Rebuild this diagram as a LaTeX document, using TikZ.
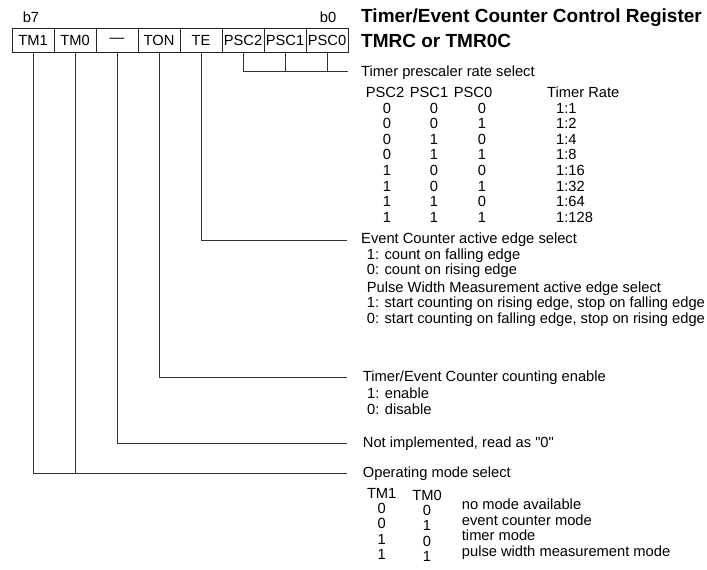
\documentclass[tikz,border=0pt]{standalone}
\usepackage{fontspec}
\setmainfont{Liberation Sans}
\newfontfamily\rawsans{Liberation Sans}
\begin{document}
\begin{tikzpicture}[x=1pt,y=-1pt,
  every node/.style={font=\fontsize{14.7}{16}\selectfont, inner sep=0pt},
  cell/.style={draw=black!85, line width=0.9pt, minimum width=42pt, minimum height=24pt, anchor=center},
  lbl/.style={anchor=mid west, yshift=-1.5pt},
  ctr/.style={anchor=mid, yshift=-1.5pt},
  ttl/.style={anchor=mid west, font=\fontsize{19}{22}\selectfont\bfseries},
  conn/.style={draw=black!80, line width=0.9pt}]
\useasboundingbox (0,0) rectangle (707,570);
% register cells
\node[cell] (tm1)  at (33,40)  {TM1};
\node[cell] (tm0)  at (75,40)  {TM0};
\node[cell] (nc)   at (117,40) {—};
\node[cell] (ton)  at (159,40) {TON};
\node[cell] (te)   at (201,40) {TE};
\node[cell] (psc2) at (243,40) {PSC2};
\node[cell] (psc1) at (285,40) {PSC1};
\node[cell] (psc0) at (327,40) {PSC0};
\node[ctr] (b7) at (31,18) {b7};
\node[ctr] (b0) at (328,18) {b0};
% title
\node[ttl] (t1) at (361,20) {Timer/Event Counter Control Register};
\node[ttl] (t2) at (361,45) {TMRC or TMR0C};
% connector end points
\coordinate (ePSC) at (348,71);
\coordinate (eTE)  at (347,240);
\coordinate (eTON) at (347,377);
\coordinate (eNC)  at (347,443);
\coordinate (eTM)  at (347,473);
\draw[conn] (psc2.south) |- (ePSC);
\draw[conn] (psc1.south) -- (psc1.south |- ePSC);
\draw[conn] (psc0.south) -- (psc0.south |- ePSC);
\draw[conn] (te.south) |- (eTE);
\draw[conn] (ton.south) |- (eTON);
\draw[conn] (nc.south) |- (eNC);
\draw[conn] (tm1.south) |- (eTM);
\draw[conn] (tm0.south) -- (tm0.south |- eTM);
% prescaler
\node[lbl] (pscT) at (361,72) {Timer prescaler rate select};
\node[ctr] (h2) at (385,93) {PSC2};
\node[ctr] (h1) at (429,93) {PSC1};
\node[ctr] (h0) at (473,93) {PSC0};
\node[lbl] (hr) at (547,93) {Timer Rate};
\foreach \a/\b/\c/\r [count=\i from 0] in {0/0/0/1:1,0/0/1/1:2,0/1/0/1:4,0/1/1/1:8,1/0/0/1:16,1/0/1/1:32,1/1/0/1:64,1/1/1/1:128}{
  \pgfmathsetmacro{\yy}{109+15.6*\i}
  \node[ctr] (pa\i) at (387,\yy) {\a};
  \node[ctr] (pb\i) at (434,\yy) {\b};
  \node[ctr] (pc\i) at (482,\yy) {\c};
  \node[lbl] (pr\i) at (556,\yy) {\r};
}
% TE
\node[lbl] (teT) at (361,239) {Event Counter active edge select};
\node[lbl] (te1) at (366.7,255) {1: count on falling edge};
\node[lbl] (te0) at (366.7,270.5) {0: count on rising edge};
\node[lbl] (pw)  at (366.7,288) {Pulse Width Measurement active edge select};
\node[lbl] (pw1) at (366.7,303.5) {1: start counting on rising edge, stop on falling edge};
\node[lbl] (pw0) at (366.7,319) {0: start counting on falling edge, stop on rising edge};
% TON
\node[lbl] (tonT) at (362.7,377) {Timer/Event Counter counting enable};
\node[lbl] (ton1) at (367,394) {1: enable};
\node[lbl] (ton0) at (367,410.5) {0: disable};
% not implemented
\node[lbl, font=\rawsans\fontsize{14.7}{16}\selectfont] (ncT) at (362.7,443) {Not implemented, read as "0"};
% operating mode
\node[lbl] (tmT) at (362.7,473) {Operating mode select};
\node[ctr] (hm1) at (381.7,494) {TM1};
\node[ctr] (hm0) at (427,496) {TM0};
\foreach \a/\b/\d [count=\i from 0] in {0/0/no mode available,0/1/event counter mode,1/0/timer mode,1/1/pulse width measurement mode}{
  \pgfmathsetmacro{\yy}{509+15.5*\i}
  \pgfmathsetmacro{\yb}{511+15.5*\i}
  \pgfmathsetmacro{\yd}{505.5+15.5*\i}
  \node[ctr] (ma\i) at (381.7,\yy) {\a};
  \node[ctr] (mb\i) at (427,\yb) {\b};
  \node[lbl] (md\i) at (461.7,\yd) {\d};
}
\end{tikzpicture}
\end{document}
